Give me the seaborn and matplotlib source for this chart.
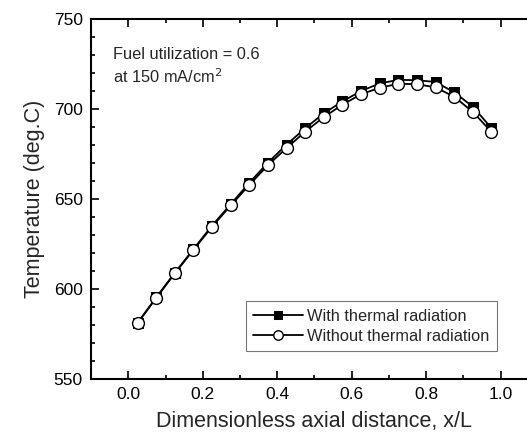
import matplotlib
matplotlib.use("Agg")
import matplotlib.pyplot as plt
from matplotlib.ticker import MultipleLocator
import seaborn as sns
import pandas as pd

x_pos = [0.025, 0.075, 0.125, 0.175, 0.225, 0.275, 0.325, 0.375, 0.425, 0.475,
         0.525, 0.575, 0.625, 0.675, 0.725, 0.775, 0.825, 0.875, 0.925, 0.975]
temp_with = [581.2, 595.3, 609.0, 622.1, 635.2, 647.1, 659.0, 670.2, 680.2, 689.3,
             697.6, 704.2, 710.0, 714.2, 716.2, 716.0, 715.0, 709.3, 701.3, 689.4]
temp_without = [581.0, 595.0, 608.7, 621.7, 634.6, 646.4, 657.8, 668.8, 678.3, 687.4,
                695.5, 702.4, 708.2, 711.8, 714.0, 713.8, 712.0, 706.8, 698.4, 687.3]
labels = ["With thermal radiation", "Without thermal radiation"]

sns.set_theme(style="ticks")
plt.rcParams["font.family"] = ["Liberation Sans", "DejaVu Sans"]

fig = plt.figure(figsize=(5.27, 4.37), dpi=100)
W, H = 527, 437
left, right, top, bottom = 91, 538, 19, 379
ax = fig.add_axes([left / W, 1 - bottom / H, (right - left) / W, (bottom - top) / H])

df_with = pd.DataFrame({"x": x_pos, "T": temp_with})
df_without = pd.DataFrame({"x": x_pos, "T": temp_without})

sns.lineplot(data=df_with, x="x", y="T", ax=ax, color="black", lw=1.3,
             marker="s", markersize=6.5, markerfacecolor="black",
             markeredgecolor="black", label=labels[0])
sns.lineplot(data=df_without, x="x", y="T", ax=ax, color="black", lw=1.3,
             marker="o", markersize=8.5, markerfacecolor="white",
             markeredgecolor="black", markeredgewidth=1.0, label=labels[1])

ax.set_xlim(-0.1, 1.1)
ax.set_ylim(550, 750)
ax.xaxis.set_major_locator(MultipleLocator(0.2))
ax.xaxis.set_minor_locator(MultipleLocator(0.1))
ax.yaxis.set_major_locator(MultipleLocator(50))
ax.yaxis.set_minor_locator(MultipleLocator(10))
ax.set_xticks([0.0, 0.2, 0.4, 0.6, 0.8, 1.0])
ax.set_xticklabels(["0.0", "0.2", "0.4", "0.6", "0.8", "1.0"])
ax.tick_params(which="both", direction="in", top=True, right=True,
               width=1.2, colors="black", labelsize=12.5)
ax.tick_params(which="major", length=6, pad=6)
ax.tick_params(which="minor", length=3)
for s in ax.spines.values():
    s.set_linewidth(1.5)
    s.set_color("black")

ax.set_xlabel("Dimensionless axial distance, x/L", fontsize=15.5, labelpad=6)
ax.set_ylabel("Temperature (deg.C)", fontsize=15.5, labelpad=6)

ax.text((113 - left) / (right - left), (379 - 47) / 360, "Fuel utilization = 0.6",
        transform=ax.transAxes, fontsize=11.8, va="top", ha="left")
ax.text((113 - left) / (right - left), (379 - 67) / 360, "at 150 mA/cm$^2$",
        transform=ax.transAxes, fontsize=11.8, va="top", ha="left")

leg = ax.legend(loc="lower left", bbox_to_anchor=((246 - left) / (right - left), (379 - 351) / 360),
                fontsize=11.8, frameon=True, fancybox=False, edgecolor="#555555",
                handlelength=3.0, borderpad=0.45, labelspacing=0.3, handletextpad=0.3,
                borderaxespad=0.0, markerscale=0.8)
leg.get_frame().set_linewidth(0.8)

fig.savefig("out.png", dpi=100)
